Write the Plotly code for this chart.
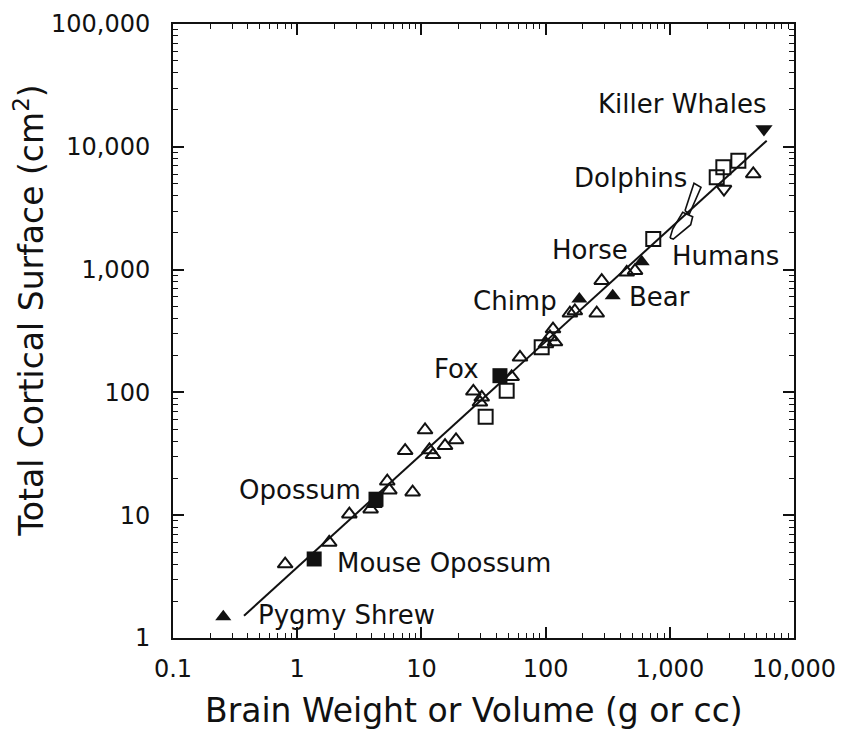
import math
import plotly.graph_objects as go

# Open triangles (other mammals)
open_tri_x = [0.80, 1.81, 2.63, 3.9, 4.2, 5.31, 5.52, 8.5, 7.4, 10.7, 11.6, 12.4, 15.5, 19.0,
              26.2, 30.6, 29.6, 53.3, 62.2, 100.7, 108.4, 114.7, 119.0, 157.0, 172.0,
              258.0, 283.0, 450.0, 525.0, 4700.0]
open_tri_y = [4.0, 6.0, 10.2, 11.2, 12.4, 18.9, 16.0, 15.4, 33.5, 49.4, 34.0, 31.0, 36.8, 41.0,
              102.0, 91.2, 83.0, 134.0, 193.0, 248.0, 283.0, 328.0, 257.0, 441.0, 460.0,
              441.0, 812.0, 951.0, 980.0, 6010.0]

# Open squares (primates)
open_sq_x = [32.9, 48.6, 93.0, 736.0, 2387.0, 2698.0, 3563.0]
open_sq_y = [63.4, 103.0, 233.0, 1775.0, 5647.0, 6808.0, 7709.0]

# Open inverted triangle (cetacean)
open_inv_x = [2731.0]
open_inv_y = [4530.0]

# Filled markers for labelled species
filled_tri_names = ["Pygmy Shrew", "Chimp", "Bear", "Horse"]
filled_tri_x = [0.254, 187.0, 347.0, 594.0]
filled_tri_y = [1.49, 576.0, 613.0, 1158.0]

filled_sq_names = ["Mouse Opossum", "Opossum", "Fox"]
filled_sq_x = [1.37, 4.31, 42.9]
filled_sq_y = [4.40, 13.5, 136.8]

filled_inv_names = ["Killer Whales"]
filled_inv_x = [5730.0]
filled_inv_y = [13960.0]

# Range outlines for humans and dolphins
humans_x = [1004, 1055, 1270, 1528, 1473, 1067, 1004]
humans_y = [1808, 2142, 2929, 2697, 2321, 1775, 1808]
dolphins_x = [1325, 1566, 1783, 1436, 1325]
dolphins_y = [3017, 5044, 4677, 2837, 3017]

# Regression line end points
fit_x = [0.373, 6030.0]
fit_y = [1.52, 11220.0]

x_tickvals = [0.1, 1, 10, 100, 1000, 10000]
x_ticktext = ["0.1", "1", "10", "100", "1,000", "10,000"]
y_tickvals = [1, 10, 100, 1000, 10000, 100000]
y_ticktext = ["1", "10", "100", "1,000", "10,000", "100,000"]

FONT = "DejaVu Sans"
INK = "#111111"

fig = go.Figure()

fig.add_trace(go.Scatter(x=fit_x, y=fit_y, mode="lines",
                         line=dict(color=INK, width=2), hoverinfo="skip"))
fig.add_trace(go.Scatter(x=humans_x, y=humans_y, mode="lines",
                         line=dict(color=INK, width=1.6), name="Humans"))
fig.add_trace(go.Scatter(x=dolphins_x, y=dolphins_y, mode="lines",
                         line=dict(color=INK, width=1.6), name="Dolphins"))

open_marker = dict(color=INK, line=dict(color=INK, width=2))
fig.add_trace(go.Scatter(x=open_tri_x, y=open_tri_y, mode="markers",
                         marker=dict(symbol="triangle-up-open", size=13, **open_marker)))
fig.add_trace(go.Scatter(x=open_sq_x, y=open_sq_y, mode="markers",
                         marker=dict(symbol="square-open", size=14, **open_marker)))
fig.add_trace(go.Scatter(x=open_inv_x, y=open_inv_y, mode="markers",
                         marker=dict(symbol="triangle-down-open", size=13, **open_marker)))

fig.add_trace(go.Scatter(x=filled_tri_x, y=filled_tri_y, text=filled_tri_names, mode="markers",
                         marker=dict(symbol="triangle-up", size=14, color=INK)))
fig.add_trace(go.Scatter(x=filled_sq_x, y=filled_sq_y, text=filled_sq_names, mode="markers",
                         marker=dict(symbol="square", size=15, color=INK)))
fig.add_trace(go.Scatter(x=filled_inv_x, y=filled_inv_y, text=filled_inv_names, mode="markers",
                         marker=dict(symbol="triangle-down", size=15, color=INK)))

# species labels (data coordinates of text centres; annotations on log axes take log10)
labels = [
    ("Killer Whales", 1254, 22300),
    ("Dolphins", 479, 5600),
    ("Horse", 228, 1450),
    ("Humans", 2830, 1290),
    ("Chimp", 57, 560),
    ("Bear", 820, 600),
    ("Fox", 19.2, 155),
    ("Opossum", 1.05, 16.0),
    ("Mouse Opossum", 15.2, 4.1),
    ("Pygmy Shrew", 2.5, 1.55),
]
for text, lx, ly in labels:
    fig.add_annotation(x=math.log10(lx), y=math.log10(ly), text=text, showarrow=False,
                       xanchor="center", yanchor="middle",
                       font=dict(family=FONT, size=26, color=INK))

# axis titles
fig.add_annotation(xref="paper", yref="paper", x=0.485, y=0, yshift=-72,
                   text="Brain Weight or Volume (g or cc)", showarrow=False,
                   xanchor="center", yanchor="middle",
                   font=dict(family=FONT, size=33, color=INK))
fig.add_annotation(xref="paper", yref="paper", x=0, xshift=-143, y=0.533,
                   text="Total Cortical Surface (cm<sup>2</sup>)", showarrow=False,
                   textangle=-90, xanchor="center", yanchor="middle",
                   font=dict(family=FONT, size=33, color=INK))

axis_common = dict(
    type="log", automargin=False, ticklabeloverflow="allow",
    showline=True, linecolor=INK, linewidth=2, mirror="ticks",
    ticks="inside", ticklen=11, tickwidth=1.5, tickcolor=INK,
    minor=dict(ticks="inside", ticklen=5, tickwidth=1.2, tickcolor=INK,
               dtick="D1", showgrid=False),
    showgrid=False, zeroline=False,
    tickfont=dict(family=FONT, size=24, color=INK),
)

fig.update_xaxes(range=[-1, 4], tickvals=x_tickvals, ticktext=x_ticktext,
                 ticklabelstandoff=8, **axis_common)
fig.update_yaxes(range=[0, 5], tickvals=y_tickvals, ticktext=y_ticktext,
                 ticklabelstandoff=16, **axis_common)

# the page body adds an 8px offset, so margins are trimmed to keep the frame in place
fig.update_layout(
    width=849, height=735,
    margin=dict(l=165, r=63, t=16, b=105),
    paper_bgcolor="white", plot_bgcolor="white",
    showlegend=False,
    font=dict(family=FONT, color=INK),
)

fig.write_html("out.html")
